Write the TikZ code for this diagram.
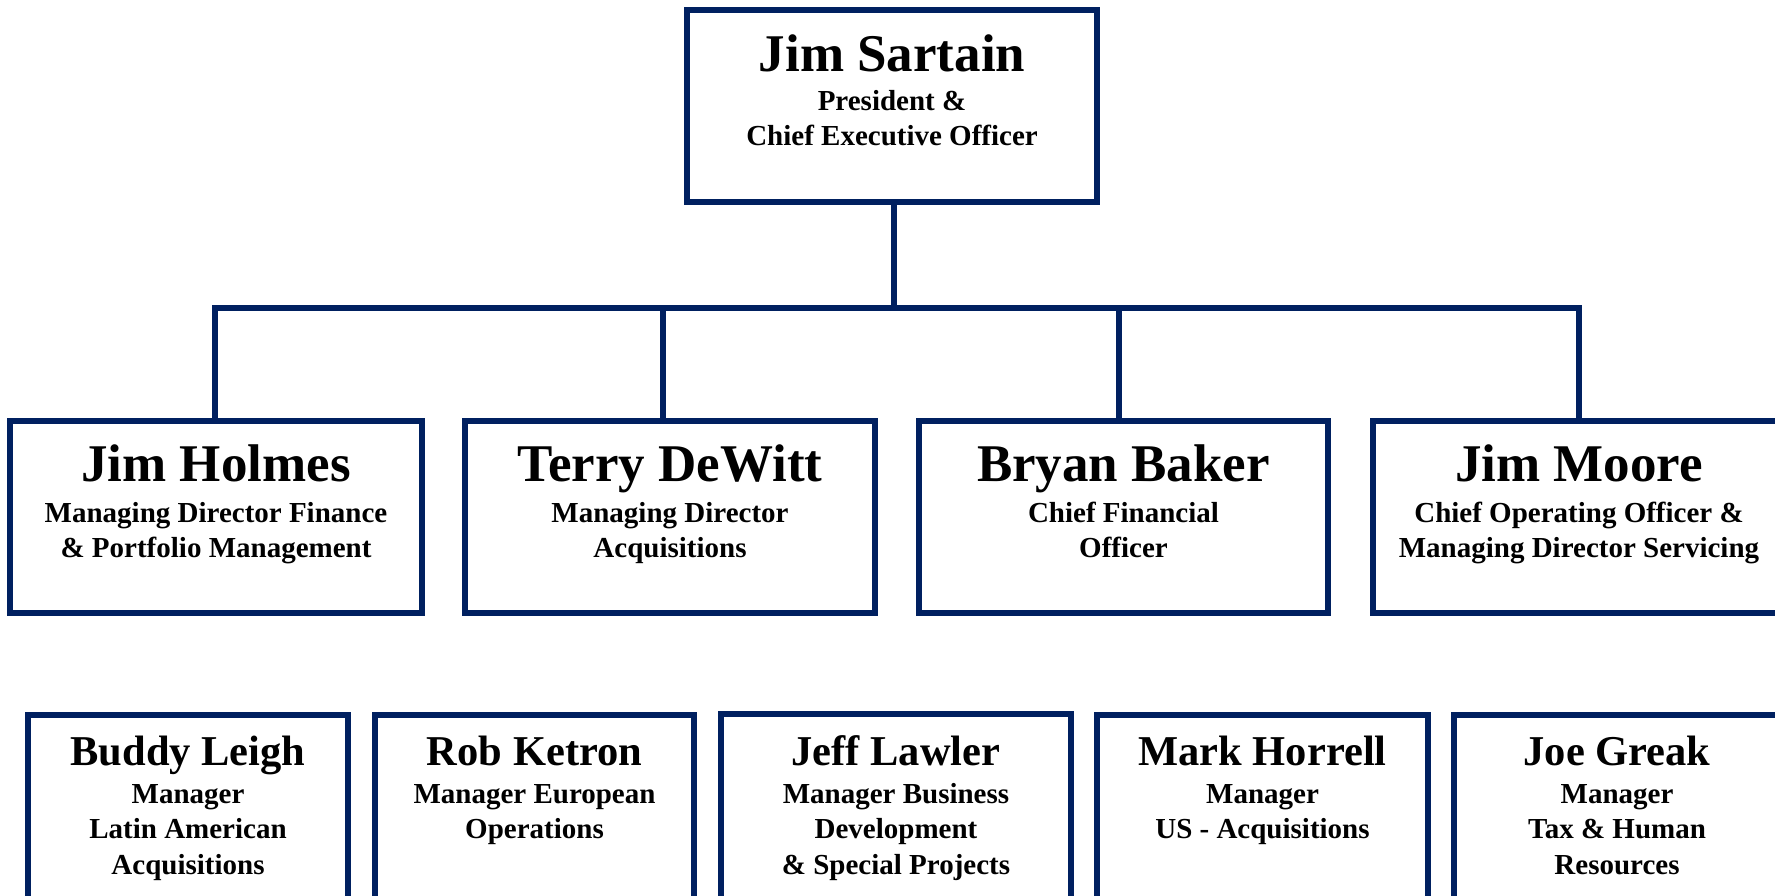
\documentclass[tikz,border=0pt]{standalone}
\usepackage{fontspec}
\setmainfont{Liberation Serif}
\definecolor{navy}{HTML}{002060}
\newcommand{\fs}{\rule{0pt}{25pt}}
\tikzset{
  box/.style={draw=navy, line width=5.5pt, rectangle, inner sep=0pt, outer sep=0pt, anchor=north west},
  nameL/.style={font=\bfseries\fontsize{53}{60}\selectfont, anchor=base, inner sep=0pt},
  nameS/.style={font=\bfseries\fontsize{42.5}{48}\selectfont, anchor=base, inner sep=0pt},
  sub/.style={font=\bfseries\fontsize{29}{35.5}\selectfont, align=center, anchor=north, inner sep=0pt},
  link/.style={draw=navy, line width=6pt}
}
\begin{document}
\begin{tikzpicture}[x=1pt,y=-1pt]
\useasboundingbox (0,0) rectangle (1775,895);
\clip (0,0) rectangle (1775,895);
\fill[white] (0,0) rectangle (1775,895);

% connectors
\coordinate (bar) at (0,308);
\coordinate (jM) at (894,308);
\coordinate (jA) at (215,308);
\coordinate (jB) at (663,308);
\coordinate (jC) at (1119,308);
\coordinate (jD) at (1579,308);

% boxes
\node[box, minimum width=410pt, minimum height=192pt] (ceo) at (687,10) {};
\node[box, minimum width=412pt, minimum height=192pt] (l2a) at (10,421) {};
\node[box, minimum width=410pt, minimum height=192pt] (l2b) at (465,421) {};
\node[box, minimum width=409pt, minimum height=192pt] (l2c) at (919,421) {};
\node[box, minimum width=412pt, minimum height=192pt] (l2d) at (1373,421) {};
\node[box, minimum width=320pt, minimum height=240pt] (l3a) at (28,715) {};
\node[box, minimum width=319pt, minimum height=240pt] (l3b) at (375,715) {};
\node[box, minimum width=350pt, minimum height=240pt] (l3c) at (721,714) {};
\node[box, minimum width=331pt, minimum height=240pt] (l3d) at (1097,715) {};
\node[box, minimum width=326pt, minimum height=240pt] (l3e) at (1454,715) {};

\draw[link] (jM |- ceo.south) -- (jM);
\draw[link] (jA |- l2a.north) -- (jA) -- (jD) -- (jD |- l2d.north);
\draw[link] (jB) -- (jB |- l2b.north);
\draw[link] (jC) -- (jC |- l2c.north);

% texts level 1
\node[nameL] (ceo-n) at (892,71) {Jim Sartain};
\node[sub] (ceo-s) at (892,85) {\fs President \&\\Chief Executive Officer};

% level 2
\node[nameL] (l2a-n) at (216,481) {Jim Holmes};
\node[sub] (l2a-s) at (216,497) {\fs Managing Director Finance\\\& Portfolio Management};
\node[nameL] (l2b-n) at (670,481) {Terry DeWitt};
\node[sub] (l2b-s) at (670,497) {\fs Managing Director\\Acquisitions};
\node[nameL] (l2c-n) at (1123.5,481) {Bryan Baker};
\node[sub] (l2c-s) at (1123.5,497) {\fs Chief Financial\\Officer};
\node[nameL] (l2d-n) at (1579,481) {Jim Moore};
\node[sub] (l2d-s) at (1579,497) {\fs Chief Operating Officer \&\\Managing Director Servicing};

% level 3
\node[nameS] (l3a-n) at (188,765) {Buddy Leigh};
\node[sub] (l3a-s) at (188,778) {\fs Manager\\Latin American\\Acquisitions};
\node[nameS] (l3b-n) at (534.5,765) {Rob Ketron};
\node[sub] (l3b-s) at (534.5,778) {\fs Manager European\\Operations};
\node[nameS] (l3c-n) at (896,765) {Jeff Lawler};
\node[sub] (l3c-s) at (896,778) {\fs Manager Business\\Development\\\& Special Projects};
\node[nameS] (l3d-n) at (1262.5,765) {Mark Horrell};
\node[sub] (l3d-s) at (1262.5,778) {\fs Manager\\US - Acquisitions};
\node[nameS] (l3e-n) at (1617,765) {Joe Greak};
\node[sub] (l3e-s) at (1617,778) {\fs Manager\\Tax \& Human\\Resources};
\end{tikzpicture}
\end{document}
